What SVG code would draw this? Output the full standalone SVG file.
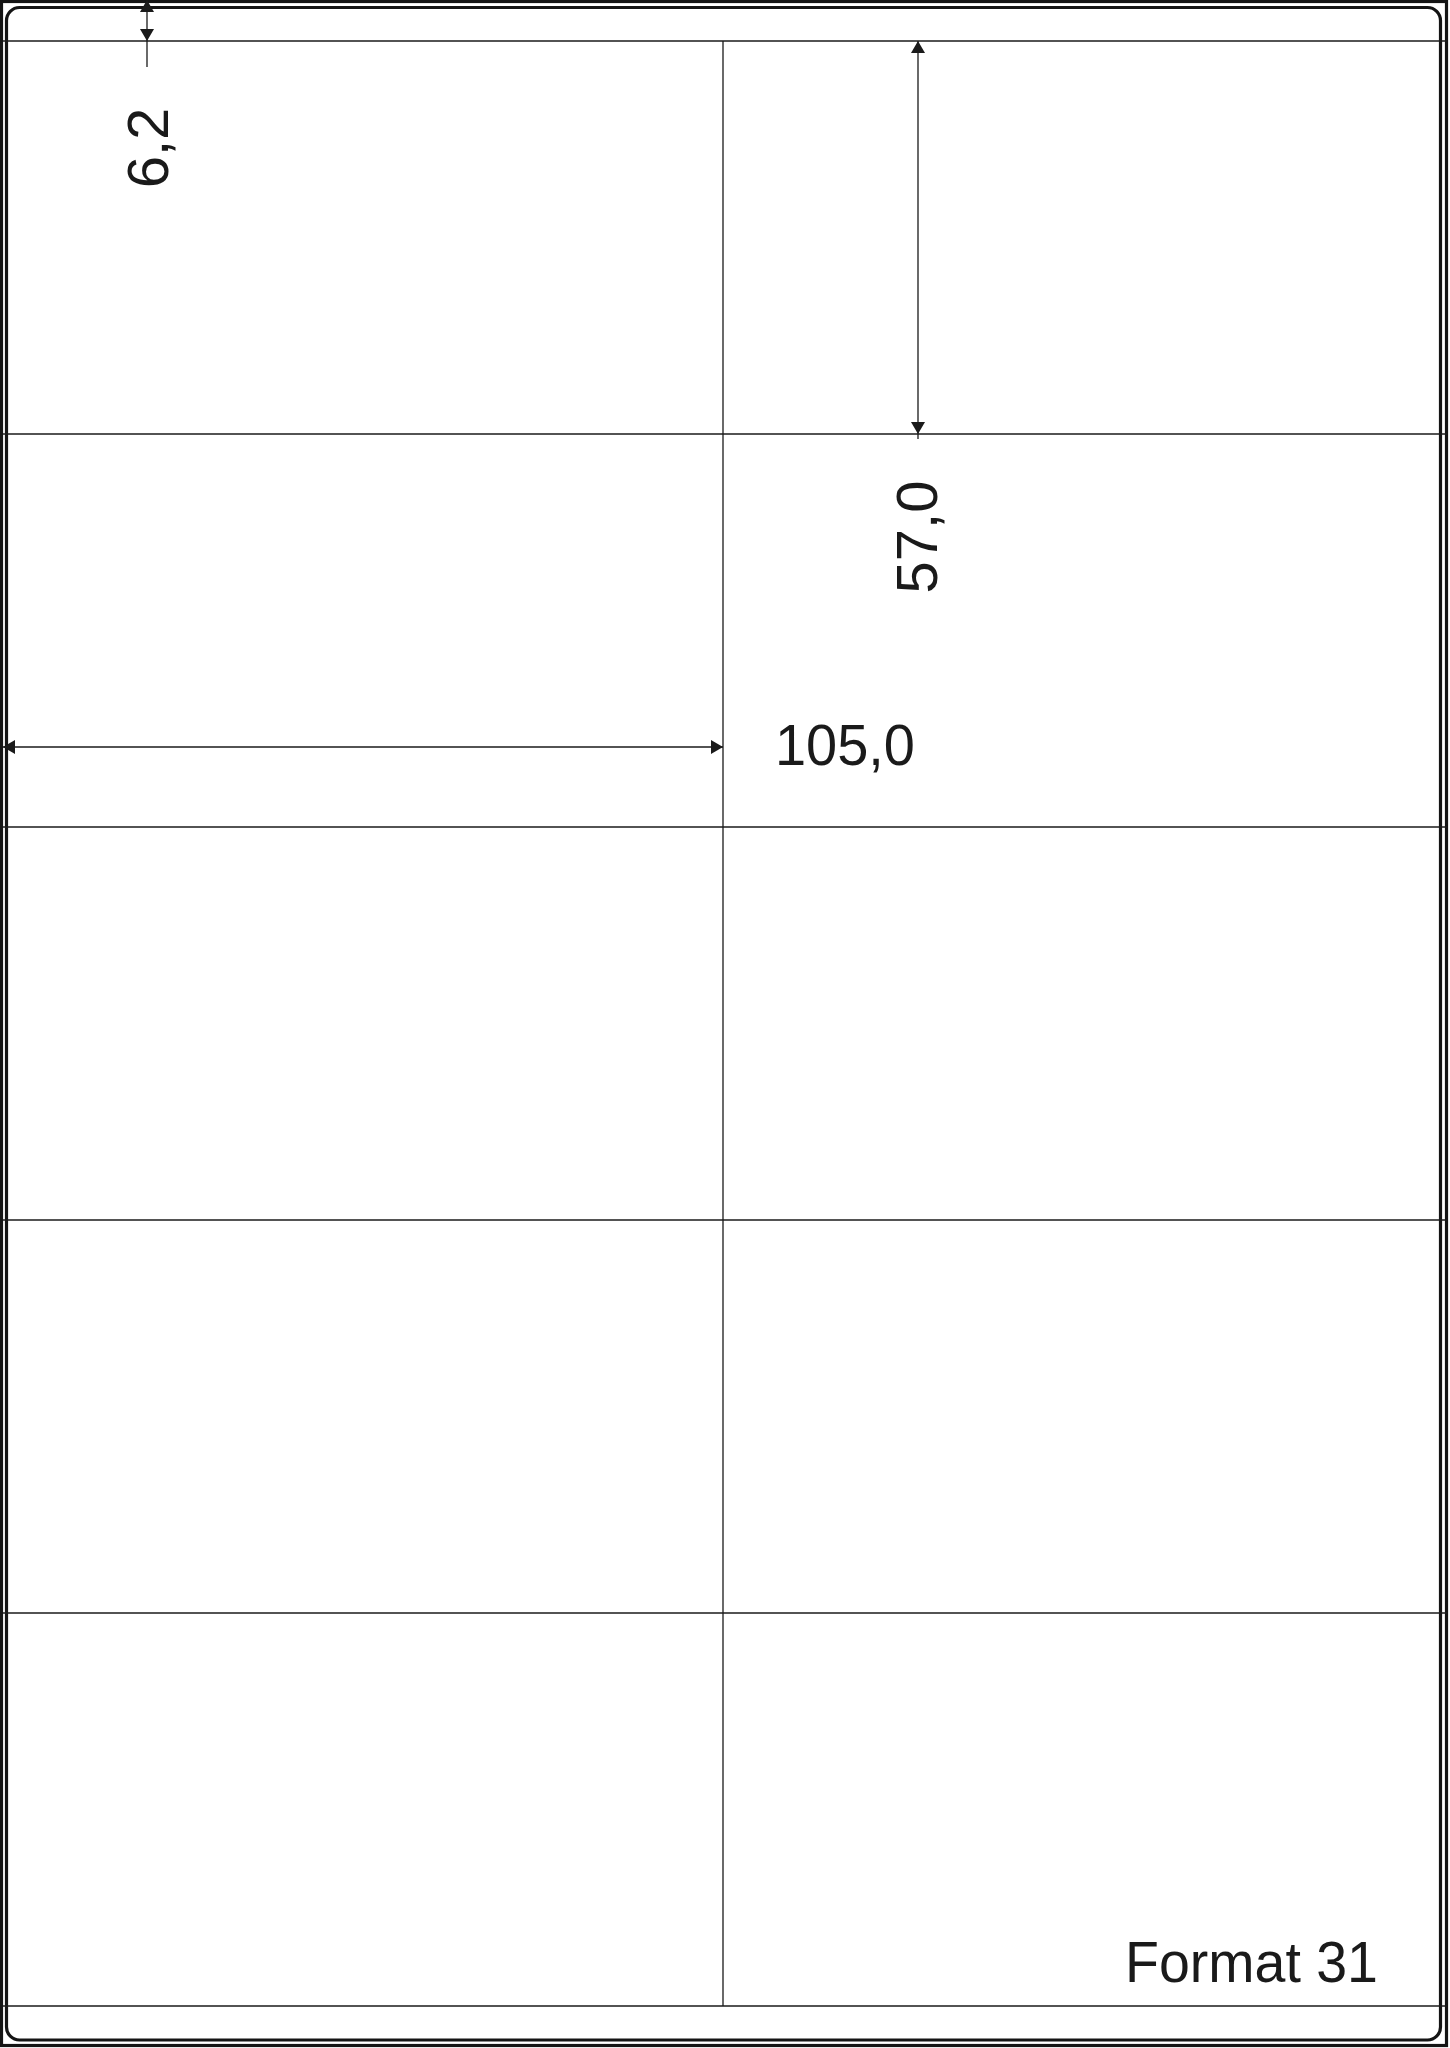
<svg xmlns="http://www.w3.org/2000/svg" width="1450" height="2048" viewBox="0 0 1450 2048">
<style>
.frame{fill:none;stroke:#141414;stroke-width:3.2}
.grid{fill:none;stroke:#1a1a1a;stroke-width:1.3}
.dim{fill:none;stroke:#1a1a1a;stroke-width:1.3}
.lbl{font-family:"Liberation Sans",Arial,sans-serif;font-size:58px;fill:#1a1a1a}
</style>
<defs>
<marker id="ah" markerUnits="userSpaceOnUse" markerWidth="13" markerHeight="14" refX="12" refY="7" orient="auto-start-reverse" viewBox="0 0 13 14">
<path d="M0,0 L12,7 L0,14 z" fill="#1a1a1a"/>
</marker>
</defs>
<rect width="1450" height="2048" fill="#ffffff"/>
<g id="sheet">
<rect class="frame" x="1.5" y="1.5" width="1445" height="2044"/>
<rect class="frame" x="6.5" y="7.5" width="1434" height="2032.5" rx="13" ry="13"/>
</g>
<g id="grid">
<line class="grid" x1="3" y1="41" x2="1447" y2="41"/>
<line class="grid" x1="3" y1="434" x2="1447" y2="434"/>
<line class="grid" x1="3" y1="827" x2="1447" y2="827"/>
<line class="grid" x1="3" y1="1220" x2="1447" y2="1220"/>
<line class="grid" x1="3" y1="1613" x2="1447" y2="1613"/>
<line class="grid" x1="3" y1="2006" x2="1447" y2="2006"/>
<line class="grid" x1="723" y1="41" x2="723" y2="2006"/>
</g>
<g id="connectors">
<line class="dim" x1="147" y1="0" x2="147" y2="41" marker-start="url(#ah)" marker-end="url(#ah)"/>
<line class="dim" x1="147" y1="41" x2="147" y2="67"/>
<line class="dim" x1="918" y1="41" x2="918" y2="434" marker-start="url(#ah)" marker-end="url(#ah)"/>
<line class="dim" x1="918" y1="434" x2="918" y2="439"/>
<line class="dim" x1="3" y1="747" x2="723" y2="747" marker-start="url(#ah)" marker-end="url(#ah)"/>
</g>
<g id="labels">
<text class="lbl" transform="translate(168,148) rotate(-90)" text-anchor="middle">6,2</text>
<text class="lbl" transform="translate(937,537) rotate(-90)" text-anchor="middle">57,0</text>
<text class="lbl" x="775" y="765" textLength="140" lengthAdjust="spacingAndGlyphs">105,0</text>
<text class="lbl" x="1125" y="1982" textLength="253" lengthAdjust="spacingAndGlyphs">Format 31</text>
</g>
</svg>
